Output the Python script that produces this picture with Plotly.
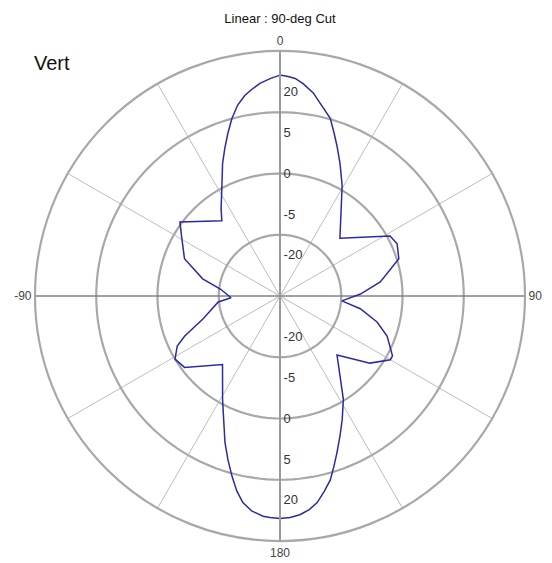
import numpy as np
import plotly.graph_objects as go

# ---- data ----
THETA_DEG = [0, 2.1, 4, 6.2, 9.3, 11.8, 15.8, 18.4, 20.8, 24.4, 29.4, 46,
             61.4, 66, 72.6, 82, 88.6, 94.5,
             99, 105, 110.5, 118, 120, 126.7, 136, 148.5, 153.3, 156.8, 160, 162.4,
             164.7, 167.3, 169.8, 172.2, 174.8, 177.4,
             180, 182.6, 184.4, 187.5, 190.2, 192.5, 194.9, 197.7, 200.6, 203.1,
             206, 209, 220, 233.2, 239, 244,
             247.2, 253.4, 264.5, 268, 276.7, 282.5, 291.3, 300.2, 306.5, 322.3, 326,
             332.2, 336.6, 339.5, 342.2, 344.8, 347.5, 350.1, 352.3, 354.6, 357.4, 360]
R_VAL = [5.41, 5.38, 5.34, 5.23, 5.04, 4.82, 4.52, 4.20, 3.93, 3.56, 3.10, 2.04,
         3.07, 3.14, 3.05, 2.48, 1.97, 1.52,
         1.99, 2.46, 2.80, 3.12, 3.12, 2.75, 2.01, 2.97, 3.39, 3.73, 4.08, 4.37,
         4.67, 4.91, 5.14, 5.28, 5.38, 5.43,
         5.45, 5.43, 5.41, 5.31, 5.14, 4.89, 4.57, 4.20, 3.83, 3.49,
         3.17, 2.90, 2.19, 2.92, 3.00, 2.80,
         2.53, 1.97, 1.52, 1.20, 1.47, 1.94, 2.51, 2.78, 3.05, 2.33, 2.58,
         3.05, 3.54, 3.86, 4.18, 4.50, 4.79, 4.99, 5.11, 5.23, 5.33, 5.41]

RADIAL_TICKVALS = [1, 2, 3, 4, 5]
RADIAL_TICKTEXT = ["-20", "-5", "0", "5", "20"]
RING_RADII = [1.5, 3.0, 4.5]
R_MAX = 6.0
ANGLE_TICKVALS = list(range(0, 360, 30))
ANGLE_LABELS = {0: "0", 90: "90", 180: "180", 270: "-90"}
ANGLE_TICKTEXT = [ANGLE_LABELS.get(a, "") for a in ANGLE_TICKVALS]

TITLE = "Linear : 90-deg Cut"
LABEL = "Vert"

FONT = "Liberation Sans, Arial, sans-serif"
GRID = "#bcbcbc"
RING = "#a8a8a8"

fig = go.Figure()

ring_theta = np.arange(0, 361, 2)
for rr in RING_RADII:
    fig.add_trace(go.Scatterpolar(
        r=[rr] * len(ring_theta), theta=ring_theta, mode="lines",
        line=dict(color=RING, width=2.2), hoverinfo="skip", showlegend=False))

# horizontal -90/90 axis line
fig.add_trace(go.Scatterpolar(
    r=[R_MAX, 0, R_MAX], theta=[90, 0, 270], mode="lines",
    line=dict(color="#666666", width=1), hoverinfo="skip", showlegend=False))

fig.add_trace(go.Scatterpolar(
    r=R_VAL, theta=THETA_DEG, mode="lines",
    line=dict(color="#2a2aa8", width=1.5), showlegend=False))

# dummy trace for the overlay subplot carrying the lower radial labels
fig.add_trace(go.Scatterpolar(
    r=[0], theta=[0], mode="markers", marker=dict(opacity=0),
    hoverinfo="skip", showlegend=False, subplot="polar2"))

common_radial = dict(
    range=[0, R_MAX], tickvals=RADIAL_TICKVALS, ticktext=RADIAL_TICKTEXT,
    showgrid=False, showline=True, linecolor="#9a9a9a", linewidth=2,
    ticks="", tickfont=dict(family=FONT, size=13, color="#333333"),
)

fig.update_layout(
    width=552, height=563,
    margin=dict(l=35, r=27, t=51, b=22),
    paper_bgcolor="white",
    plot_bgcolor="white",
    font=dict(family=FONT),
    title=dict(text=TITLE, x=280 / 552, xref="container", xanchor="center",
               y=1 - 18 / 563, yref="container", yanchor="middle",
               font=dict(family=FONT, size=13, color="#111111")),
    polar=dict(
        domain=dict(x=[0, 1], y=[0, 1]),
        bgcolor="white",
        radialaxis=dict(angle=90, side="clockwise", tickangle=90, **common_radial),
        angularaxis=dict(
            rotation=90, direction="clockwise",
            tickvals=ANGLE_TICKVALS, ticktext=ANGLE_TICKTEXT,
            showgrid=True, gridcolor=GRID, gridwidth=1.3,
            showline=True, linecolor=RING, linewidth=2.2,
            ticks="", tickfont=dict(family=FONT, size=12, color="#444444")),
    ),
    polar2=dict(
        domain=dict(x=[0, 1], y=[0, 1]),
        bgcolor="rgba(0,0,0,0)",
        radialaxis=dict(angle=-90, side="counterclockwise", tickangle=-90, **common_radial),
        angularaxis=dict(visible=False, rotation=90, direction="clockwise"),
    ),
    annotations=[dict(text=LABEL, xref="paper", yref="paper",
                      x=(32 - 35) / 490, y=(541 - 63) / 490,
                      xanchor="left", yanchor="middle", showarrow=False,
                      font=dict(family=FONT, size=20, color="#111111"))],
)

fig.write_html("out.html", config={"displayModeBar": False},
               post_script="document.body.style.margin='0px';")
